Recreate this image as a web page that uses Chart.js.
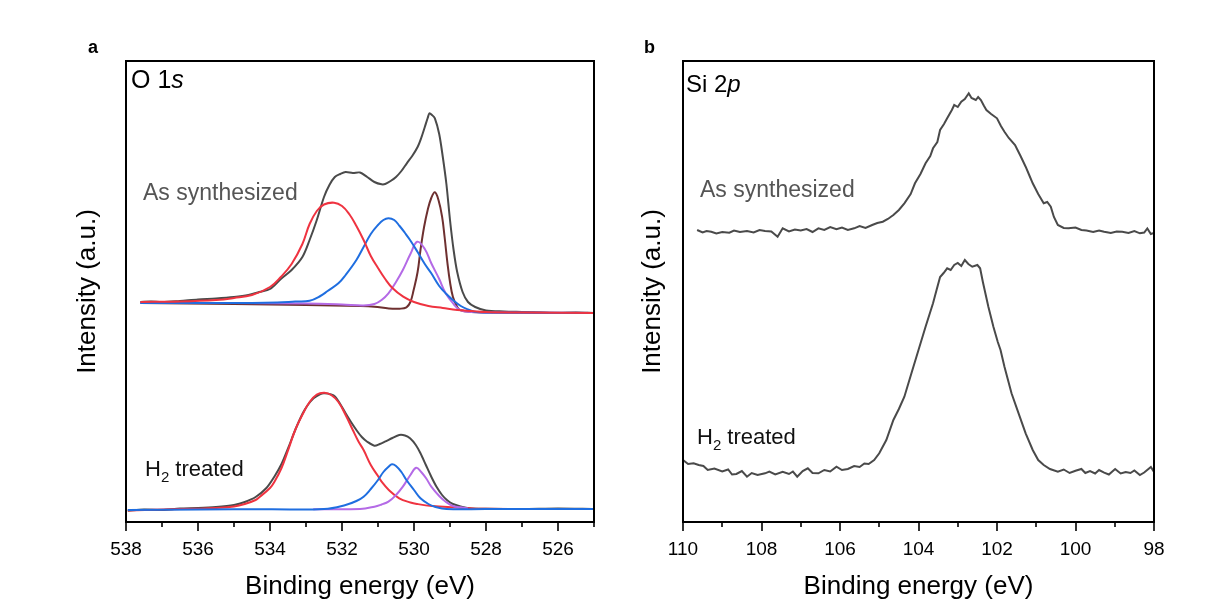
<!DOCTYPE html>
<html>
<head>
<meta charset="utf-8">
<script src="https://cdn.jsdelivr.net/npm/chart.js@4.4.0/dist/chart.umd.min.js"></script>
<style>
html, body { margin: 0; padding: 0; background: #fff; }
#wrap { position: relative; width: 1220px; height: 606px; }
canvas { position: absolute; top: 0; }
#chart-o1s { left: 0; }
#chart-si2p { left: 610px; }
</style>
</head>
<body>
<div id="wrap">
<canvas id="chart-o1s" width="610" height="606"></canvas>
<canvas id="chart-si2p" width="610" height="606"></canvas>
</div>
<script>
// O 1s, as synthesized (upper stack)
const oAsRawE = [537.6, 537.3, 537.0, 536.5, 536.0, 535.5, 535.0, 534.6, 534.3, 534.0, 533.7, 533.4, 533.1, 532.9, 532.7, 532.5, 532.35, 532.2, 532.05, 531.9, 531.7, 531.5, 531.3, 531.1, 530.9, 530.8, 530.65, 530.5, 530.35, 530.2, 530.05, 529.9, 529.8, 529.7, 529.62, 529.57, 529.5, 529.42, 529.3, 529.2, 529.1, 529.0, 528.9, 528.8, 528.65, 528.5, 528.3, 528.0, 527.5, 527.0, 526.5, 526.0, 525.5, 525.0];
const oAsRawI = [220, 220.5, 219.8, 221, 222.5, 223.5, 225, 227, 230, 233, 243, 252, 265, 282, 302, 325, 337, 345, 348, 350, 349, 349.5, 345, 340, 337.7, 338, 341, 345, 351, 358.7, 366, 375, 384, 395, 404, 408.7, 407, 403.7, 388, 365, 338, 302, 272, 250, 230, 220, 215, 211.5, 210.5, 210, 209.5, 209, 209.5, 209];

const oAsRedE = [537.6, 536.5, 535.5, 535.0, 534.5, 534.0, 533.7, 533.4, 533.1, 532.9, 532.7, 532.5, 532.22, 532.0, 531.8, 531.6, 531.4, 531.2, 531.0, 530.8, 530.6, 530.3, 530.0, 529.6, 529.2, 528.8, 528.4, 528.0, 527.0, 525.0];
const oAsRedI = [220, 220.5, 222, 224, 227, 235, 245, 258, 278, 298, 311, 317.5, 319.3, 316, 308, 296, 282, 266, 254, 243, 234, 225.3, 220, 216, 214, 212, 211, 210, 209.5, 209];

const oAsBlueE = [537.6, 536.0, 534.5, 533.8, 533.3, 532.9, 532.6, 532.4, 532.1, 531.9, 531.6, 531.4, 531.2, 531.0, 530.85, 530.71, 530.55, 530.4, 530.25, 530.11, 529.9, 529.7, 529.52, 529.3, 529.1, 528.92, 528.7, 528.5, 528.32, 528.0, 525.0];
const oAsBlueI = [219, 219, 219, 219.5, 220.5, 221.3, 226, 231, 238.7, 247, 262, 275, 288, 297, 302, 303.7, 302, 296, 289, 282, 270, 258, 248.7, 236, 228, 222, 216, 212.5, 210.3, 209.5, 209];

const oAsPurpleE = [537.6, 535.0, 533.0, 532.0, 531.4, 531.1, 530.9, 530.71, 530.5, 530.31, 530.1, 529.91, 529.7, 529.52, 529.3, 529.12, 528.9, 528.72, 528.4, 528.0, 525.0];
const oAsPurpleI = [219, 219, 218.5, 217.5, 216.5, 218, 222, 228.7, 240, 252, 268, 280.3, 273, 258.7, 243, 228.7, 218, 212, 210, 209.5, 209];

const oAsBrownE = [537.6, 535.0, 533.0, 531.5, 531.1, 530.7, 530.4, 530.21, 530.1, 530.01, 529.9, 529.82, 529.72, 529.62, 529.52, 529.42, 529.32, 529.22, 529.15, 529.07, 529.0, 528.92, 528.8, 528.72, 528.4, 528.0, 525.0];
const oAsBrownI = [219, 218, 217, 216, 215.3, 213.5, 213.3, 214.7, 220, 232, 250, 272, 295, 312, 324, 329.7, 322, 305.3, 285, 258.7, 240, 225.3, 215, 212, 210, 209.5, 209];

// O 1s, H2 treated (lower stack)
const oH2RawE = [537.95, 537.5, 537.0, 536.5, 536.0, 535.5, 535.0, 534.7, 534.4, 534.1, 533.88, 533.68, 533.48, 533.3, 533.09, 532.95, 532.79, 532.6, 532.49, 532.3, 532.19, 532.05, 531.9, 531.75, 531.6, 531.45, 531.3, 531.1, 530.95, 530.81, 530.6, 530.41, 530.25, 530.11, 529.95, 529.82, 529.67, 529.52, 529.37, 529.22, 529.07, 528.92, 528.7, 528.47, 528.0, 527.0, 526.0, 525.0];
const oH2RawI = [11.3, 12.5, 12, 13.5, 14, 15, 17, 20, 25, 34, 45.3, 58, 75.3, 92, 108.7, 117, 123.7, 128, 128.7, 127.5, 125.3, 118, 108.7, 100, 92, 85, 80.3, 76.3, 78, 80.3, 84, 87, 86.5, 83.7, 77, 68.7, 57, 45.3, 35, 27, 21.5, 18, 15.5, 13.7, 13.2, 13, 13.5, 13];

const oH2RedE = [537.95, 537.0, 536.0, 535.5, 535.0, 534.7, 534.4, 534.28, 534.0, 533.88, 533.68, 533.48, 533.3, 533.09, 532.9, 532.7, 532.49, 532.3, 532.1, 531.9, 531.7, 531.55, 531.4, 531.2, 531.0, 530.9, 530.7, 530.41, 530.1, 529.91, 529.5, 528.92, 528.0, 525.0];
const oH2RedI = [11.5, 12.5, 13.3, 14, 15.5, 18, 22, 25.3, 34, 40, 54, 73.7, 92, 108, 120, 127.5, 129.3, 127, 120, 107, 92, 81, 72, 57, 46, 40.3, 32, 23.7, 19.5, 18, 16, 14.7, 13.2, 13];

const oH2BlueE = [537.95, 536.0, 534.0, 532.5, 531.9, 531.6, 531.4, 531.2, 531.0, 530.85, 530.7, 530.61, 530.5, 530.35, 530.21, 530.0, 529.82, 529.6, 529.42, 529.1, 528.0, 525.0];
const oH2BlueI = [12, 12.5, 12.8, 13, 17, 21, 25.3, 33, 42, 50, 55.5, 57.7, 56, 50, 42, 32, 23.7, 18, 15.3, 13, 13, 13];

const oH2PurpleE = [532.8, 531.5, 531.1, 530.9, 530.71, 530.5, 530.31, 530.1, 529.94, 529.8, 529.65, 529.52, 529.3, 529.12, 528.92, 528.72, 528.5];
const oH2PurpleI = [12.8, 13, 15.3, 17.5, 20.3, 27, 35.3, 47, 54.3, 50, 43, 35.3, 26, 20.3, 16, 14.7, 13.5];

// Si 2p
const siAsE = [109.64, 109.5, 109.4, 109.28, 109.15, 109.0, 108.82, 108.7, 108.55, 108.37, 108.2, 108.05, 107.91, 107.75, 107.59, 107.46, 107.3, 107.15, 107.0, 106.85, 106.7, 106.55, 106.4, 106.25, 106.09, 105.95, 105.8, 105.64, 105.5, 105.35, 105.18, 105.05, 104.91, 104.78, 104.64, 104.5, 104.36, 104.2, 104.09, 103.95, 103.82, 103.7, 103.63, 103.52, 103.45, 103.35, 103.27, 103.15, 103.09, 103.0, 102.91, 102.82, 102.72, 102.65, 102.54, 102.48, 102.41, 102.33, 102.27, 102.15, 102.0, 101.9, 101.81, 101.7, 101.54, 101.4, 101.27, 101.18, 101.09, 100.95, 100.81, 100.72, 100.63, 100.55, 100.45, 100.3, 100.18, 100.0, 99.85, 99.72, 99.55, 99.4, 99.27, 99.1, 98.95, 98.81, 98.65, 98.5, 98.36, 98.25, 98.17, 98.08, 98.0];
const siAsI = [292, 289.5, 291, 290.3, 288.5, 290, 289.3, 291.5, 290, 291, 289.5, 292, 291, 290.5, 285.3, 293.7, 290.5, 292.5, 291.5, 293, 290, 293.7, 292, 295, 292.7, 294.5, 292, 293.7, 296, 294, 297, 299, 300.3, 303, 307, 312, 318.7, 328, 338.7, 348, 358.7, 366, 373.7, 380, 392, 398, 403.7, 412, 417, 415, 420.3, 423, 428.7, 424, 422, 425, 422, 416, 412, 408, 403.7, 396, 390.3, 384, 377, 366, 355.3, 347, 338.7, 328, 318.7, 320, 315.3, 305, 297, 294, 293.7, 294.5, 292, 291.5, 290, 291.5, 290.3, 289, 290.5, 290.3, 289, 291, 288.7, 289.5, 293.5, 288, 289];

const siH2E = [110.0, 109.87, 109.73, 109.6, 109.48, 109.37, 109.2, 109.0, 108.85, 108.75, 108.64, 108.5, 108.37, 108.25, 108.1, 107.91, 107.8, 107.65, 107.46, 107.3, 107.2, 107.09, 106.95, 106.82, 106.7, 106.55, 106.4, 106.25, 106.09, 105.95, 105.8, 105.64, 105.5, 105.38, 105.27, 105.13, 105.0, 104.82, 104.64, 104.5, 104.36, 104.18, 104.0, 103.82, 103.63, 103.54, 103.45, 103.36, 103.27, 103.18, 103.09, 103.0, 102.91, 102.82, 102.73, 102.63, 102.5, 102.43, 102.36, 102.22, 102.09, 101.98, 101.91, 101.81, 101.63, 101.45, 101.27, 101.09, 100.95, 100.81, 100.65, 100.45, 100.3, 100.15, 100.0, 99.85, 99.75, 99.63, 99.5, 99.4, 99.27, 99.15, 98.99, 98.85, 98.72, 98.6, 98.5, 98.36, 98.25, 98.08, 98.0];
const siH2I = [62, 58, 58.7, 57, 56, 52, 53.5, 50.5, 52.5, 47.5, 48, 51, 45.3, 49, 47, 48.7, 50.5, 47.5, 50.3, 48, 50.5, 45.3, 51, 53.7, 49, 48.7, 52, 50.5, 55.3, 52, 53, 56, 55, 58.5, 58, 62, 68.7, 82, 102, 113, 125.3, 148.7, 172, 195.3, 218.7, 232, 245, 249, 253.7, 252, 257, 259, 256, 262, 258, 255.3, 257, 253.7, 240, 215.3, 195, 180, 172, 155.3, 128.7, 108.7, 88.7, 72, 62, 57, 53, 50.3, 52.5, 49, 51.3, 53, 49, 51, 48.5, 52, 49.3, 47.5, 53, 48.5, 50, 49, 51.5, 47, 49.5, 55, 50];

const family = '"Liberation Sans", Arial, sans-serif';
const colGray = '#4a4a4a';
const colRed = '#ef3340';
const colBlue = '#1f6ee0';
const colPurple = '#b46ae6';
const colBrown = '#6e3030';

function pts(xs, ys) {
	return xs.map((x, i) => ({x: x, y: ys[i]}));
}

function line(xs, ys, color, tension) {
	return {
		data: pts(xs, ys),
		borderColor: color,
		borderWidth: 2,
		pointRadius: 0,
		tension: tension,
		fill: false,
	};
}

// frame and bottom ticks (major every 2, minor every 1)
const framePlugin = {
	id: 'frame',
	afterDraw(chart) {
		const ctx = chart.ctx;
		const a = chart.chartArea;
		const x = chart.scales.x;
		ctx.save();
		ctx.strokeStyle = '#000';
		ctx.lineWidth = 2;
		ctx.strokeRect(a.left, a.top, a.right - a.left, a.bottom - a.top);
		ctx.lineWidth = 1.6;
		for (const t of x.ticks) {
			const px = Math.round(x.getPixelForValue(t.value));
			const len = t.value % 2 === 0 ? 9 : 5;
			ctx.beginPath();
			ctx.moveTo(px, a.bottom);
			ctx.lineTo(px, a.bottom + len);
			ctx.stroke();
		}
		ctx.restore();
	}
};

// free text: panel letter, core level, sample names
const notesPlugin = {
	id: 'notes',
	afterDraw(chart, args, opts) {
		const ctx = chart.ctx;
		ctx.save();
		ctx.textBaseline = 'alphabetic';
		ctx.textAlign = 'left';
		for (const item of opts.items || []) {
			let x = item.x;
			for (const seg of item.parts) {
				const size = seg.size || item.size;
				ctx.font = (seg.style || '') + ' ' + size + 'px ' + family;
				ctx.fillStyle = item.color;
				ctx.fillText(seg.t, x, item.y + (seg.dy || 0));
				x += ctx.measureText(seg.t).width;
			}
		}
		ctx.restore();
	}
};

function makeChart(id, datasets, xmin, xmax, yWidth, yTitlePad, padRight, notes) {
	return new Chart(document.getElementById(id), {
		type: 'line',
		data: {datasets: datasets},
		options: {
			responsive: false,
			animation: false,
			devicePixelRatio: 1,
			layout: {padding: {top: 61, right: padRight, bottom: 0, left: 0}},
			plugins: {
				legend: {display: false},
				tooltip: {enabled: false},
				notes: {items: notes},
			},
			scales: {
				x: {
					type: 'linear',
					reverse: true,
					min: xmin,
					max: xmax,
					afterFit: (s) => { s.height = 84; },
					grid: {display: false, drawTicks: false},
					border: {display: false},
					ticks: {
						stepSize: 1,
						autoSkip: false,
						maxRotation: 0,
						padding: 16,
						color: '#000',
						font: {family: family, size: 19},
						callback: (v) => (Number.isInteger(v) && v % 2 === 0) ? String(v) : '',
					},
					title: {
						display: true,
						text: 'Binding energy (eV)',
						color: '#000',
						font: {family: family, size: 26},
						padding: {top: 0, bottom: 4},
					},
				},
				y: {
					min: 0,
					max: 461,
					afterFit: (s) => { s.width = yWidth; },
					grid: {display: false, drawTicks: false},
					border: {display: false},
					ticks: {display: false},
					title: {
						display: true,
						text: 'Intensity (a.u.)',
						color: '#000',
						font: {family: family, size: 26},
						padding: {top: yTitlePad, bottom: 0},
					},
				},
			},
		},
		plugins: [framePlugin, notesPlugin],
	});
}

makeChart('chart-o1s', [
	line(oH2BlueE, oH2BlueI, colBlue, 0.4),
	line(oH2PurpleE, oH2PurpleI, colPurple, 0.4),
	line(oH2RedE, oH2RedI, colRed, 0.4),
	line(oH2RawE, oH2RawI, colGray, 0.3),
	line(oAsRedE, oAsRedI, colRed, 0.4),
	line(oAsBlueE, oAsBlueI, colBlue, 0.4),
	line(oAsPurpleE, oAsPurpleI, colPurple, 0.4),
	line(oAsBrownE, oAsBrownI, colBrown, 0.4),
	line(oAsRawE, oAsRawI, colGray, 0.3),
], 525, 538, 126, 72, 16, [
	{x: 88, y: 53, size: 18, color: '#000', parts: [{t: 'a', style: 'bold'}]},
	{x: 131, y: 88, size: 25, color: '#000', parts: [{t: 'O 1'}, {t: 's', style: 'italic'}]},
	{x: 143, y: 200, size: 23, color: '#555', parts: [{t: 'As synthesized'}]},
	{x: 145, y: 476, size: 22, color: '#111', parts: [{t: 'H'}, {t: '2', size: 15, dy: 6}, {t: ' treated'}]},
]);

makeChart('chart-si2p', [
	line(siAsE, siAsI, colGray, 0),
	line(siH2E, siH2I, colGray, 0),
], 98, 110, 73, 27, 66, [
	{x: 34, y: 53, size: 18, color: '#000', parts: [{t: 'b', style: 'bold'}]},
	{x: 76, y: 92, size: 24, color: '#000', parts: [{t: 'Si 2'}, {t: 'p', style: 'italic'}]},
	{x: 90, y: 197, size: 23, color: '#555', parts: [{t: 'As synthesized'}]},
	{x: 87, y: 444, size: 22, color: '#111', parts: [{t: 'H'}, {t: '2', size: 15, dy: 6}, {t: ' treated'}]},
]);
</script>
</body>
</html>
